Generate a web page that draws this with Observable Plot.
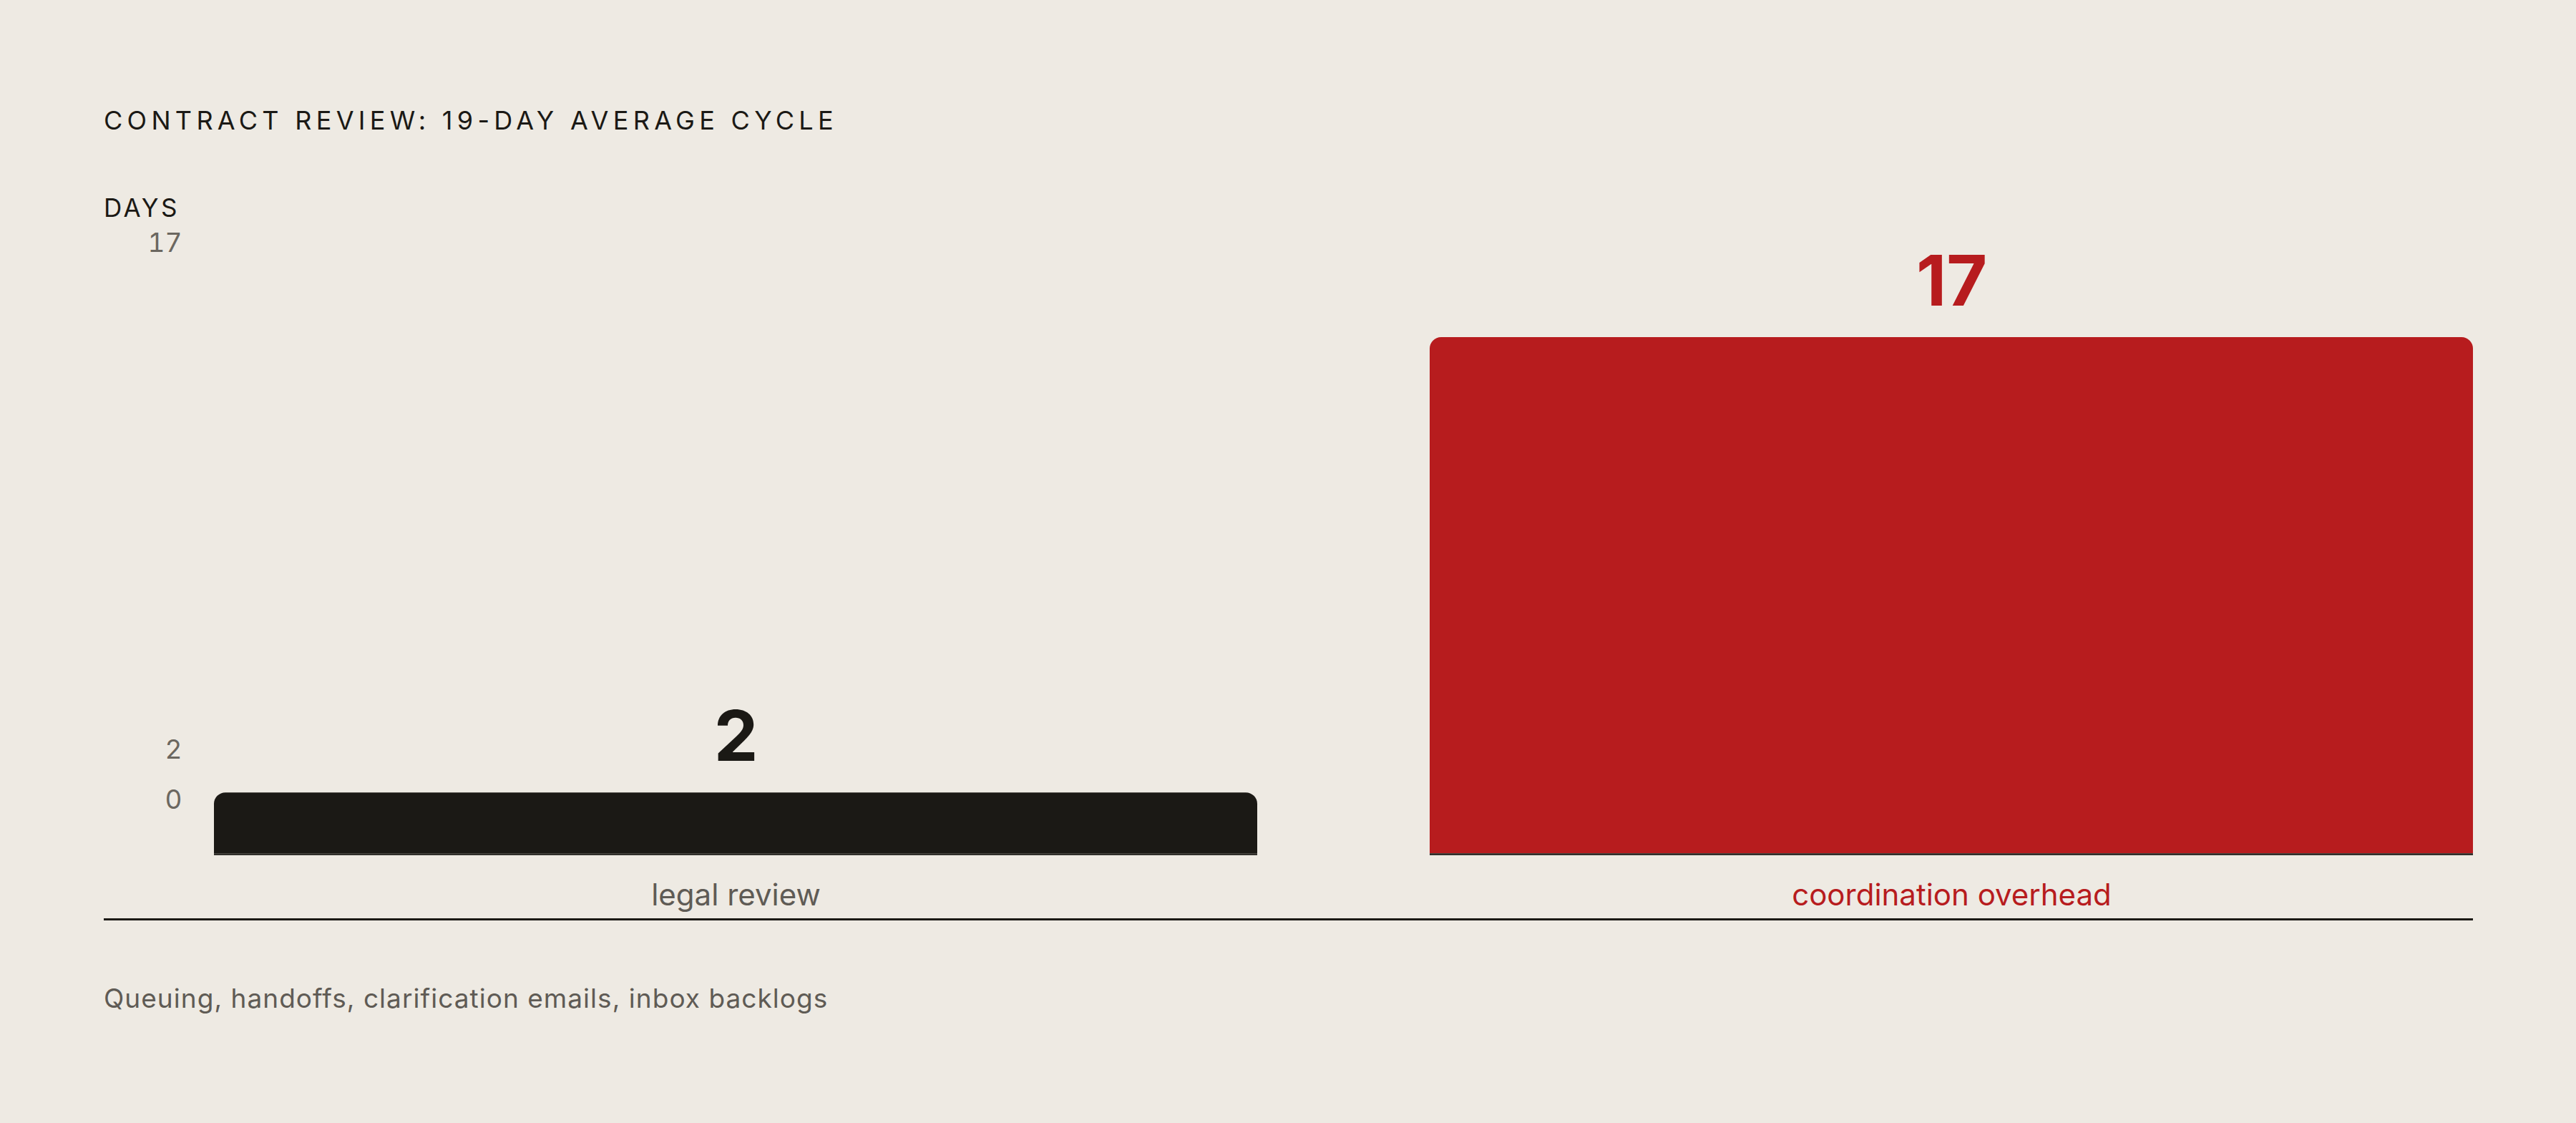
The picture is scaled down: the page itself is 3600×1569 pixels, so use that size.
<!DOCTYPE html>
<html>
<head>
<meta charset="utf-8">
<script src="https://cdn.jsdelivr.net/npm/d3@7"></script>
<script src="https://cdn.jsdelivr.net/npm/@observablehq/plot@0.6"></script>
<style>
  html, body { margin: 0; padding: 0; background: #eeeae3; }
  body { width: 3600px; height: 1569px; position: relative; overflow: hidden; font-family: Inter, "DejaVu Sans", sans-serif; }
  .title { position: absolute; left: 145px; top: 150px; font-size: 36px; line-height: 1; letter-spacing: 0.175em; color: #1b1915; font-weight: 400; white-space: nowrap; }
  .ylabel { position: absolute; left: 145px; top: 273px; font-size: 35px; line-height: 1; letter-spacing: 0.1em; color: #1b1915; white-space: nowrap; }
  .sep { position: absolute; left: 145px; top: 1283px; width: 3311px; height: 3px; background: #1b1915; }
  .caption { position: absolute; left: 145px; top: 1376px; font-size: 37px; line-height: 1; letter-spacing: 0.028em; color: #5f5b55; white-space: nowrap; }
  #chart { position: absolute; left: 0; top: 0; }
</style>
</head>
<body>
<div class="title">CONTRACT REVIEW: 19-DAY AVERAGE CYCLE</div>
<div class="ylabel">DAYS</div>
<div id="chart"></div>
<div class="sep"></div>
<div class="caption">Queuing, handoffs, clarification emails, inbox backlogs</div>
<script>
const categories = ["legal review", "coordination overhead"];
const days = [2, 17];
const yTicks = [0, 2, 17];
const barColors = ["#1b1915", "#b71c1e"];
const labelColors = ["#5f5b55", "#b71c1e"];

const data = categories.map((c, i) => ({category: c, days: days[i]}));
const colorOf = Object.fromEntries(categories.map((c, i) => [c, barColors[i]]));
const labelColorOf = Object.fromEntries(categories.map((c, i) => [c, labelColors[i]]));

const ink = "#1b1915";
const tickGray = "#6b6760";

const chart = Plot.plot({
  width: 3600,
  height: 1300,
  marginLeft: 299,
  marginRight: 144,
  marginTop: 471,
  marginBottom: 108,
  style: {background: "transparent", fontFamily: "Inter, 'DejaVu Sans', sans-serif", overflow: "visible"},
  x: {domain: categories, paddingInner: 0.142, paddingOuter: 0, label: null},
  y: {domain: [0, 17], label: null},
  marks: [
    Plot.barY(data, {x: "category", y: "days", fill: d => colorOf[d.category], ry1: 16, rx1y1: 16, rx2y1: 16}),
    Plot.tickY(data, {x: "category", y: 0, stroke: ink, strokeWidth: 2.5, dy: 1}),
    Plot.text(data, {x: "category", y: "days", text: d => String(d.days), fill: d => colorOf[d.category], fontSize: 98, fontWeight: 700, lineAnchor: "bottom", dy: -45}),
    Plot.axisY([yTicks[0]], {tickSize: 0, tickPadding: 45, fontSize: 37, fill: tickGray, dy: -74, label: null}),
    Plot.axisY([yTicks[1]], {tickSize: 0, tickPadding: 45, fontSize: 37, fill: tickGray, dy: -60, label: null}),
    Plot.axisY([yTicks[2]], {tickSize: 0, tickPadding: 45, fontSize: 37, fill: tickGray, dy: -131, label: null}),
    Plot.axisX({tickSize: 0, tickPadding: 43, fontSize: 42, fill: d => labelColorOf[d], label: null})
  ]
});
document.getElementById("chart").appendChild(chart);
</script>
</body>
</html>
